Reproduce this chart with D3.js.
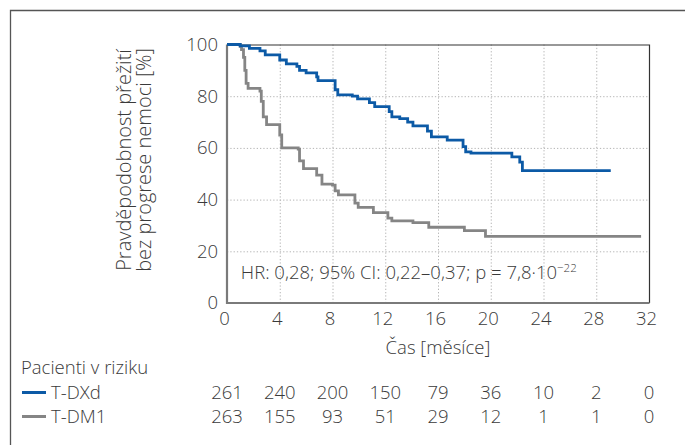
<!DOCTYPE html>
<html>
<head>
<meta charset="utf-8">
<script src="https://cdn.jsdelivr.net/npm/d3@7"></script>
<style>
  body { margin: 0; background: #fff; }
  svg { display: block; }
  text { font-family: 'Open Sans', 'Noto Sans', sans-serif; font-weight: 300; fill: #3a3a3a; }
</style>
</head>
<body>
<div id="km_chart"></div>
<script>
  'use strict';

  const FONT_SIZE = 18.5;
  const BLUE = '#0c5aa6';
  const GREY = '#858585';

  // Kaplan-Meier steps (months, % without progression).
  const dxdTime = [0, 1.0, 1.7, 2.5, 2.9, 4.0, 4.5, 5.3, 5.5, 6.0, 6.8, 6.9, 8.2, 8.4, 9.5, 9.9,
    10.8, 11.2, 12.3, 12.5, 13.1, 13.7, 14.1, 15.2, 15.5, 16.7, 17.9, 18.1, 18.5, 21.6, 22.2, 22.4, 29.1];
  const dxdSurv = [100, 99.5, 98.5, 97.5, 96, 94, 92.5, 91.5, 90, 89, 87.5, 86, 82.5, 80.5, 80, 79,
    77.5, 76, 74, 72, 71.3, 70, 68.5, 66.5, 64.3, 63, 60.5, 58.5, 58, 56.5, 54.5, 51.2, 51.2];

  const dm1Time = [0, 1.0, 1.1, 1.25, 1.35, 1.45, 1.6, 2.5, 2.6, 2.75, 3.0, 4.0, 4.15, 5.4, 5.5, 5.8,
    6.8, 7.2, 8.0, 8.2, 8.45, 9.7, 9.95, 11.1, 12.2, 12.5, 14.1, 15.3, 18.0, 19.6, 31.4];
  const dm1Surv = [100, 99.3, 98, 95, 90, 85, 83, 82, 78, 72, 69, 65, 60, 59.5, 55, 52,
    49.5, 46, 45.6, 43.4, 41.8, 38.6, 37, 35, 32.8, 31.8, 31.1, 29.3, 28, 25.8, 25.8];

  const xTicks = [0, 4, 8, 12, 16, 20, 24, 28, 32];
  const yTicks = [0, 20, 40, 60, 80, 100];

  const groups = ['T-DXd', 'T-DM1'];
  const riskDxd = [261, 240, 200, 150, 79, 36, 10, 2, 0];
  const riskDm1 = [263, 155, 93, 51, 29, 12, 1, 1, 0];

  const W = 685, H = 445;
  let margin = {top: 44.5, left: 227, right: 36, bottom: 142};
  let width = W - margin.left - margin.right;
  let height = H - margin.top - margin.bottom;

  let svg = d3.select('#km_chart').append('svg')
    .attr('width', W)
    .attr('height', H);

  // Outer frame (top + left only are visible).
  svg.append('path')
    .attr('d', 'M10.5,' + H + 'V10.5H' + W)
    .attr('fill', 'none')
    .attr('stroke', '#555')
    .attr('stroke-width', 1.3);

  let g = svg.append('g')
    .attr('transform', 'translate(' + margin.left + ',' + margin.top + ')');

  let x = d3.scaleLinear().domain([0, 32]).range([0, width]);
  let y = d3.scaleLinear().domain([0, 100]).range([height, 0]);

  // Dotted grid.
  g.append('g')
    .attr('class', 'grid')
    .call(d3.axisBottom(x).tickValues(xTicks.slice(1, -1)).tickSize(height).tickFormat(''))
    .call(a => a.select('.domain').remove());
  g.append('g')
    .attr('class', 'grid')
    .call(d3.axisLeft(y).tickValues(yTicks.slice(1, -1)).tickSize(-width).tickFormat(''))
    .call(a => a.select('.domain').remove());
  g.selectAll('.grid line')
    .attr('stroke', '#b5b5b5')
    .attr('stroke-width', 1)
    .attr('stroke-dasharray', '1.3,2');

  // Plot box: thin dark top/right, heavier grey left/bottom.
  g.append('path')
    .attr('d', 'M0,0.5H' + (width + 0.5) + 'V' + height)
    .attr('fill', 'none')
    .attr('stroke', '#333')
    .attr('stroke-width', 1.2);
  g.append('path')
    .attr('d', 'M0,0V' + height + 'H' + (width + 0.5))
    .attr('fill', 'none')
    .attr('stroke', '#7a7a7a')
    .attr('stroke-width', 2.2);

  // Axis labels.
  g.append('g')
    .attr('transform', 'translate(-3,' + height + ')')
    .call(d3.axisBottom(x).tickValues(xTicks).tickSize(0).tickPadding(9))
    .call(a => a.select('.domain').remove())
    .selectAll('text')
    .style('font-size', FONT_SIZE + 'px');

  g.append('g')
    .call(d3.axisLeft(y).tickValues(yTicks).tickSize(0).tickPadding(9))
    .call(a => a.select('.domain').remove())
    .selectAll('text')
    .style('font-size', FONT_SIZE + 'px');

  g.selectAll('.tick text').attr('fill', '#3a3a3a').style('font-family', null);

  g.append('text')
    .attr('x', width / 2)
    .attr('y', height + 51)
    .attr('text-anchor', 'middle')
    .style('font-size', FONT_SIZE + 'px')
    .text('Čas [měsíce]');

  let yLabel = svg.append('text')
    .attr('transform', 'translate(0,160) rotate(-90)')
    .attr('text-anchor', 'middle')
    .style('font-size', '20px');
  yLabel.append('tspan').attr('x', 0).attr('y', 131).text('Pravděpodobnost přežití');
  yLabel.append('tspan').attr('x', 0).attr('y', 151).text('bez progrese nemoci [%]');

  // Survival curves.
  let line = d3.line()
    .x(d => x(d[0]))
    .y(d => y(d[1]))
    .curve(d3.curveStepAfter);

  let series = [
    {name: groups[1], color: GREY, pts: d3.zip(dm1Time, dm1Surv)},
    {name: groups[0], color: BLUE, pts: d3.zip(dxdTime, dxdSurv)}
  ];

  g.selectAll('path.km')
    .data(series)
    .enter()
    .append('path')
    .attr('class', 'km')
    .attr('d', d => line(d.pts))
    .attr('fill', 'none')
    .attr('stroke', d => d.color)
    .attr('stroke-width', 2.8);

  // Hazard ratio note.
  let note = g.append('text')
    .attr('x', x(1.05))
    .attr('y', y(9.3))
    .style('font-size', FONT_SIZE + 'px')
    .text('HR: 0,28; 95% CI: 0,22–0,37; p = 7,8·10');
  note.append('tspan')
    .attr('dy', -7)
    .style('font-size', '11.5px')
    .text('−22');

  // Patients at risk table.
  svg.append('text')
    .attr('x', 21)
    .attr('y', 374)
    .style('font-size', FONT_SIZE + 'px')
    .text('Pacienti v riziku');

  let rows = [
    {name: groups[0], color: BLUE, vals: riskDxd, yPos: 399},
    {name: groups[1], color: GREY, vals: riskDm1, yPos: 423}
  ];

  let row = svg.selectAll('g.risk')
    .data(rows)
    .enter()
    .append('g')
    .attr('class', 'risk')
    .attr('transform', d => 'translate(0,' + d.yPos + ')');

  row.append('line')
    .attr('x1', 22)
    .attr('x2', 46)
    .attr('y1', -6.5)
    .attr('y2', -6.5)
    .attr('stroke', d => d.color)
    .attr('stroke-width', 3);

  row.append('text')
    .attr('x', 51)
    .style('font-size', FONT_SIZE + 'px')
    .text(d => d.name);

  row.selectAll('text.num')
    .data(d => d.vals.map((v, i) => ({v: v, t: xTicks[i]})))
    .enter()
    .append('text')
    .attr('class', 'num')
    .attr('x', d => margin.left + x(d.t))
    .attr('text-anchor', 'middle')
    .style('font-size', FONT_SIZE + 'px')
    .text(d => d.v);
</script>
</body>
</html>
